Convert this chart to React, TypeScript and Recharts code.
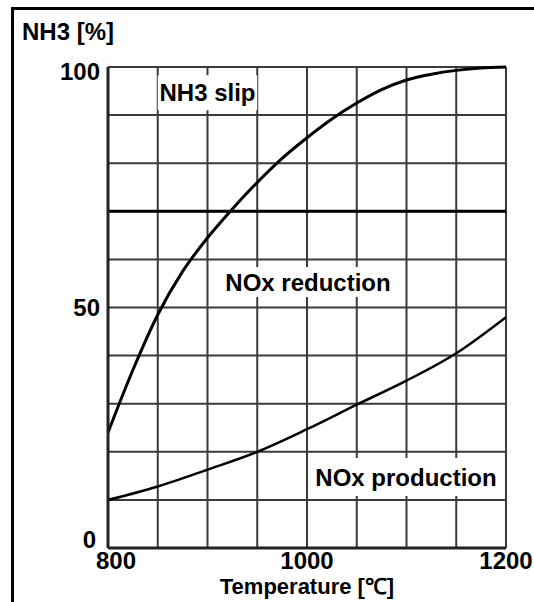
import React from 'react';
import {
  LineChart,
  Line,
  XAxis,
  YAxis,
  CartesianGrid,
  ReferenceArea,
  ReferenceLine,
} from 'recharts';

// NOx reduction curve (upper), temperature in °C, value in %
const reductionTemps = [800, 825, 850, 875, 900, 925, 950, 975, 1000, 1025, 1050, 1075, 1100, 1125, 1150, 1175, 1200];
const reductionValues = [24, 37, 48.5, 57.5, 64.5, 70.5, 76, 81, 85.3, 89.2, 92.5, 95.3, 97.3, 98.5, 99.3, 99.8, 100];

// NOx production curve (lower)
const productionTemps = [800, 850, 900, 950, 1000, 1050, 1100, 1150, 1200];
const productionValues = [10, 12.8, 16.3, 20, 24.7, 29.8, 34.8, 40.5, 48];

const xTicks = [800, 850, 900, 950, 1000, 1050, 1100, 1150, 1200];
const xLabels = [800, 1000, 1200];
const yTicks = [0, 10, 20, 30, 40, 50, 60, 70, 80, 90, 100];
const yLabels = [0, 50, 100];

const regionLabels = [
  { text: 'NH3 slip', x1: 850, x2: 950, y1: 91, y2: 98.3 },
  { text: 'NOx reduction', x1: 910, x2: 1092, y1: 52.2, y2: 58.4 },
  { text: 'NOx production', x1: 1005, x2: 1194, y1: 10.8, y2: 18.7 },
];

const reductionData = reductionTemps.map((t, i) => ({ t, v: reductionValues[i] }));
const productionData = productionTemps.map((t, i) => ({ t, v: productionValues[i] }));

const FONT = '"Liberation Sans", Arial, Helvetica, sans-serif';
const FS = 24;

const YTick = (props: any) => {
  const { x, y, payload } = props;
  if (!yLabels.includes(payload.value)) return null;
  const shiftY = payload.value === 100 ? 4 : payload.value === 0 ? -9 : 0;
  const shiftX = payload.value === 0 ? -4 : 0;
  return (
    <text x={x + shiftX} y={y + shiftY} dy="0.355em" textAnchor="end" fontFamily={FONT} fontSize={FS} fontWeight="bold" fill="#000">
      {payload.value}
    </text>
  );
};

const XTick = (props: any) => {
  const { x, y, payload } = props;
  if (!xLabels.includes(payload.value)) return null;
  const shift = payload.value === 800 ? 8 : 0;
  return (
    <text x={x + shift} y={y - 4} dy="0.71em" textAnchor="middle" fontFamily={FONT} fontSize={FS} fontWeight="bold" fill="#000">
      {payload.value}
    </text>
  );
};

const YTitle = () => (
  <text x={22} y={40} fontFamily={FONT} fontSize={FS} fontWeight="bold" fill="#000">
    NH3 [%]
  </text>
);

export default function App() {
  return (
    <div style={{ position: 'absolute', left: 0, top: 0, width: 534, height: 602, background: '#fff', overflow: 'hidden' }}>
      <div
        style={{
          position: 'absolute',
          left: 11,
          top: 7,
          width: 540,
          height: 610,
          borderTop: '3px solid #000',
          borderLeft: '3px solid #000',
        }}
      />
      <div style={{ position: 'absolute', left: 0, top: 0 }}>
        <LineChart width={534} height={602} margin={{ top: 67, right: 28, bottom: 0, left: 0 }}>
          <CartesianGrid stroke="#3a3a3a" strokeWidth={2} />
          <XAxis
            type="number"
            dataKey="t"
            domain={[800, 1200]}
            ticks={xTicks}
            interval={0}
            tickLine={false}
            tickSize={6}
            tickMargin={2}
            height={54}
            axisLine={{ stroke: '#222', strokeWidth: 3 }}
            tick={<XTick />}
            allowDataOverflow
            label={{
              value: 'Temperature [℃]',
              position: 'insideBottom',
              offset: 8,
              fill: '#000',
              fontSize: 22,
              fontWeight: 'bold',
              fontFamily: FONT,
            }}
          />
          <YAxis
            type="number"
            dataKey="v"
            domain={[0, 100]}
            ticks={yTicks}
            interval={0}
            width={108}
            tickLine={false}
            tickSize={6}
            tickMargin={2}
            axisLine={{ stroke: '#222', strokeWidth: 3 }}
            tick={<YTick />}
            label={{ content: <YTitle /> }}
          />
          <ReferenceLine y={70} stroke="#000" strokeWidth={3} />
          {regionLabels.map((r) => (
            <ReferenceArea
              key={r.text}
              x1={r.x1}
              x2={r.x2}
              y1={r.y1}
              y2={r.y2}
              fill="#fff"
              fillOpacity={1}
              stroke="none"
              label={{
                value: r.text,
                position: 'center',
                fill: '#000',
                fontSize: FS,
                fontWeight: 'bold',
                fontFamily: FONT,
              }}
            />
          ))}
          <Line
            data={reductionData}
            dataKey="v"
            type="monotone"
            stroke="#000"
            strokeWidth={3}
            dot={false}
            isAnimationActive={false}
          />
          <Line
            data={productionData}
            dataKey="v"
            type="monotone"
            stroke="#000"
            strokeWidth={2.5}
            dot={false}
            isAnimationActive={false}
          />
        </LineChart>
      </div>
    </div>
  );
}
